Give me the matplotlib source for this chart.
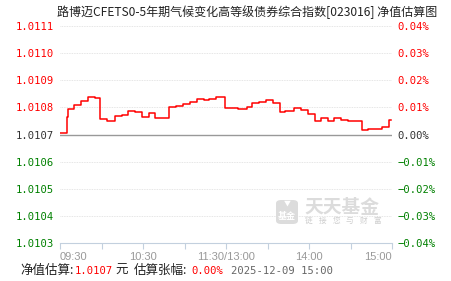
"""Fund NAV intraday estimate chart
"""

import matplotlib
matplotlib.use('Agg')
import matplotlib.pyplot as plt
from matplotlib.patches import FancyBboxPatch

W, H = 451, 281

# minutes since 09:30 (trading time, lunch break removed) and estimated NAV
minutes = [0, 5, 6, 10, 15, 20, 25, 29, 34, 40, 45, 49, 54, 59, 64, 69, 79, 84, 89,
           94, 99, 104, 108, 113, 119, 129, 135, 139, 144, 149, 154, 159, 163, 169,
           174, 179, 184, 189, 194, 198, 203, 208, 218, 223, 233, 238, 239]
nav = [1.010706, 1.010763, 1.010794, 1.010810, 1.010822, 1.010840, 1.010833, 1.010756,
       1.010750, 1.010768, 1.010773, 1.010786, 1.010783, 1.010766, 1.010778, 1.010762,
       1.010801, 1.010806, 1.010811, 1.010821, 1.010832, 1.010829, 1.010832, 1.010839,
       1.010799, 1.010795, 1.010803, 1.010817, 1.010821, 1.010826, 1.010816, 1.010784,
       1.010788, 1.010798, 1.010792, 1.010776, 1.010751, 1.010762, 1.010748, 1.010761,
       1.010755, 1.010748, 1.010718, 1.010722, 1.010729, 1.010752, 1.010752]

base = 1.0107
y_levels = [1.0103, 1.0104, 1.0105, 1.0106, 1.0107, 1.0108, 1.0109, 1.0110, 1.0111]
pct_labels = ['-0.04%', '-0.03%', '-0.02%', '-0.01%', '0.00%', '0.01%', '0.02%', '0.03%', '0.04%']
x_ticks = [0, 30, 60, 90, 120, 150, 180, 210, 240]
x_labels = ['09:30', '', '10:30', '', '11:30/13:00', '', '14:00', '', '15:00']

title = '路博迈CFETS0-5年期气候变化高等级债券综合指数[023016] 净值估算图'

RED, GREEN, DARK = '#ff0000', '#008000', '#333333'
CJK = ['Noto Sans CJK SC', 'DejaVu Sans']
MONO = ['DejaVu Sans Mono']


def fx(px):
    return px / W


def fy(py):
    return 1 - py / H


def level_color(v):
    if abs(v - base) < 1e-9:
        return DARK
    return RED if v > base else GREEN


fig = plt.figure(figsize=(W / 100, H / 100), dpi=100)
ax = fig.add_axes([fx(60), fy(243), fx(332), 217 / H])
ax.set_xlim(0, 240)
ax.set_ylim(y_levels[0], y_levels[-1])

for s in ['top', 'left', 'right']:
    ax.spines[s].set_visible(False)
ax.spines['bottom'].set_color('#c3d0de')
ax.spines['bottom'].set_linewidth(0.8)

# grid lines
for v in y_levels[1:]:
    if abs(v - base) < 1e-9:
        ax.axhline(v, color='#999999', lw=1.0, zorder=2)
    else:
        ax.axhline(v, color='#dddddd', lw=0.6, ls=(0, (1, 1)), zorder=1)

ax.plot(minutes, nav, color=RED, lw=1.1, drawstyle='steps-post', zorder=3)

# x axis
ax.set_xticks(x_ticks)
ax.set_xticklabels(x_labels, fontfamily='Liberation Sans', fontsize=8, color='#999999')
ax.tick_params(axis='x', length=4, width=0.8, color='#c3d0de', pad=2.5)
xl = ax.get_xticklabels()
xl[0].set_ha('left')
xl[-1].set_ha('right')

# left labels
ax.set_yticks(y_levels)
ax.set_yticklabels([f'{v:.4f}' for v in y_levels], fontfamily=MONO, fontsize=7.6)
ax.tick_params(axis='y', length=0, pad=4)
for lab, v in zip(ax.get_yticklabels(), y_levels):
    lab.set_color(level_color(v))

# right labels
ax2 = ax.twinx()
ax2.set_ylim(ax.get_ylim())
for s in ['top', 'left', 'right', 'bottom']:
    ax2.spines[s].set_visible(False)
ax2.set_yticks(y_levels)
ax2.set_yticklabels([p.replace('-', '\u2212') for p in pct_labels], fontfamily=MONO, fontsize=7.6)
ax2.tick_params(axis='y', length=0, pad=4)
for lab, v in zip(ax2.get_yticklabels(), y_levels):
    lab.set_color(level_color(v))

# watermark
wm = '#dcdcdc'
ax.add_patch(FancyBboxPatch((fx(276), fy(224)), fx(22), 24 / H,
                            boxstyle='round,pad=0,rounding_size=0.012',
                            transform=fig.transFigure, fc=wm, ec='none',
                            zorder=1.5, clip_on=False))
ax.text(fx(287), fy(216), '基金', transform=fig.transFigure, family=CJK,
        fontsize=6.5, weight='bold', color='white', ha='center', va='center',
        zorder=1.6, clip_on=False)
ax.text(fx(287), fy(204), '\u25bc', transform=fig.transFigure, family=CJK,
        fontsize=5, color='white', ha='center', va='center', zorder=1.6, clip_on=False)
ax.text(fx(342), fy(207.5), '天天基金', transform=fig.transFigure, family=CJK,
        fontsize=13.5, weight='bold', color=wm, ha='center', va='center',
        zorder=1.5, clip_on=False)
for i, ch in enumerate('链接您与财富'):
    ax.text(fx(309 + i * 13.6), fy(221), ch, transform=fig.transFigure, family=CJK,
            fontsize=5.5, color='#cfcfcf', ha='center', va='center',
            zorder=1.5, clip_on=False)

# title
fig.text(fx(437), fy(12.5), title, family=CJK, fontsize=8.65, color='#222222',
         ha='right', va='center')

# bottom summary line
row = fy(270.5)
fig.text(fx(20), row, '净值估算:', family=CJK, fontsize=9, color='#222222', va='center')
fig.text(fx(75), row, '1.0107', family=MONO, fontsize=7.6, color=RED, va='center')
fig.text(fx(115), row, '元', family=CJK, fontsize=9, color='#222222', va='center')
fig.text(fx(134), row, '估算张幅:', family=CJK, fontsize=9, color='#222222', va='center')
fig.text(fx(191), row, '0.00%', family=MONO, fontsize=7.6, color=RED, va='center')
fig.text(fx(231), row, '2025-12-09 15:00', family=MONO, fontsize=7.6, color='#666666',
         va='center')

fig.savefig('out.png', dpi=100)
